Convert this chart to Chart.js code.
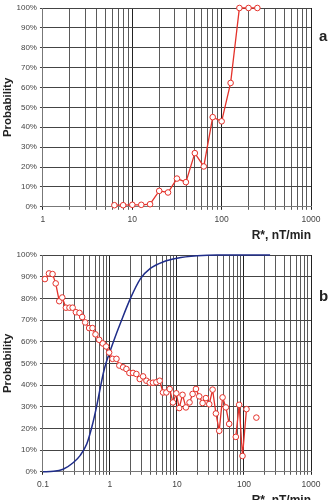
<!DOCTYPE html>
<html>
<head>
<meta charset="utf-8">
<script src="https://cdn.jsdelivr.net/npm/chart.js@4"></script>
<style>
html, body { margin: 0; padding: 0; background: #fff; overflow: hidden; width: 333px; height: 500px; }
#panelA { position: absolute; left: 0; top: 0; width: 333px; height: 242px; }
#panelB { position: absolute; left: 0; top: 240px; width: 333px; height: 267px; }
.letra { position: absolute; font: bold 15px "Liberation Sans", Arial, sans-serif; color: #222; }
</style>
</head>
<body>
<div id="panelA"><canvas id="graficaA"></canvas></div>
<div id="panelB"><canvas id="graficaB"></canvas></div>
<div class="letra" style="left:319px; top:27px;">a</div>
<div class="letra" style="left:319px; top:287px;">b</div>
<script>
// panel a
let rA = [6.3, 7.9, 10, 12.6, 15.8, 20, 25.1, 31.6, 39.8, 50.1, 63.1, 79.4, 100, 126, 158, 200, 251];
let probA = [0.8, 0.8, 1.0, 1.0, 1.3, 8.0, 7.2, 14.2, 12.4, 27.0, 20.3, 45.1, 43.0, 62.3, 100, 100, 100];

// panel b (null = hueco en la linea)
let rB = [0.107, 0.123, 0.139, 0.155, 0.175, 0.194, 0.220, 0.249, 0.277, 0.310,
          0.351, 0.385, 0.427, 0.489, 0.548, 0.608, 0.690, 0.782, 0.877, 0.972,
          1.09, 1.25, 1.38, 1.57, 1.76, 1.95, 2.21, 2.48, 2.78, 3.12,
          3.50, 3.92, 4.39, 4.92, 5.52, 6.19, 6.94, 7.78, 8.71, 9.77,
          10.8, 12.1, 13.6, 15.4, 17.1, 19.2, 21.5, 24.1, 27.0, 30.3,
          34.0, 38.1, 42.7, 47.9, 53.7, 60.1, 67.3, 75.5, 84.7, 95.0,
          109, 122, 137, 153];
let probB = [88.9, 91.5, 91.2, 86.9, 78.7, 80.4, 75.7, 75.7, 75.7, 73.6,
             73.3, 71.4, 68.9, 66.3, 66.3, 63.4, 60.9, 59.2, 57.8, 55.0,
             52.1, 52.1, 49.0, 48.2, 47.4, 45.6, 45.6, 45.1, 42.8, 44.0,
             42.0, 41.1, 41.1, 41.3, 42.0, 36.6, 36.6, 38.2, 32.0, 36.2,
             29.4, 35.5, 29.7, 32.0, 35.9, 38.2, 34.8, 31.7, 34.0, 31.2,
             37.9, 26.9, 18.9, 34.3, 29.7, 22.1, null, 16.1, 30.9, 7.3,
             28.9, null, null, 25.0];

let rCurva = [0.1, 0.144, 0.2, 0.285, 0.36, 0.45, 0.54, 0.64, 0.72, 0.81, 0.89,
              1.0, 1.14, 1.43, 2.02, 2.84, 4.0, 6.3, 10, 20, 40, 245];
let probCurva = [0, 0.2, 1.2, 4.3, 7.6, 12.8, 21, 31, 39, 46.5, 51,
                 55.5, 60.5, 68.5, 80, 89, 93.8, 96.9, 98.5, 99.6, 100, 100];

let decadasA = [1, 10, 100, 1000];
let decadasB = [0.1, 1, 10, 100, 1000];

const fuente = "'Liberation Sans', Arial, sans-serif";
const rojo = "#e4322b";
const azul = "#1f2d8a";

addEventListener("load", inicializar, false);

function inicializar() {
    dibujarPanel("graficaA", decadasA, [serieRoja(rA, probA)], { left: 2, right: 22, top: 8, bottom: 0 });
    dibujarPanel("graficaB", decadasB, [
        serieRoja(rB, probB),
        {
            data: rCurva.map((x, i) => ({ x: x, y: probCurva[i] })),
            borderColor: azul,
            borderWidth: 1.5,
            pointRadius: 0,
            cubicInterpolationMode: "monotone",
            showLine: true,
            clip: false
        }
    ], { left: 2, right: 22, top: 15, bottom: 0 });
}

function serieRoja(xs, ys) {
    return {
        data: xs.map((x, i) => ({ x: x, y: ys[i] })),
        borderColor: rojo,
        borderWidth: 1.3,
        pointRadius: 2.8,
        pointBackgroundColor: "#fff",
        pointBorderColor: rojo,
        pointBorderWidth: 1,
        showLine: true,
        spanGaps: false,
        clip: false
    };
}

function rejilla(decadas) {
    let valores = [];
    for (let i = 0; i < decadas.length - 1; i++) {
        for (let k = 1; k <= 9; k++) valores.push(k === 1 ? decadas[i] : decadas[i] * k);
    }
    valores.push(decadas[decadas.length - 1]);
    return valores;
}

function esDecada(v) {
    let l = Math.log10(v);
    return Math.abs(l - Math.round(l)) < 1e-6;
}

function dibujarPanel(id, decadas, datasets, relleno) {
    let ctx = document.getElementById(id).getContext("2d");
    let valores = rejilla(decadas);
    new Chart(ctx, {
        type: "scatter",
        data: { datasets: datasets },
        options: {
            responsive: true,
            maintainAspectRatio: false,
            animation: false,
            layout: { padding: relleno },
            plugins: { legend: { display: false }, tooltip: { enabled: false } },
            scales: {
                x: {
                    type: "logarithmic",
                    min: decadas[0],
                    max: decadas[decadas.length - 1],
                    afterBuildTicks: scale => { scale.ticks = valores.map(v => ({ value: v })); },
                    ticks: {
                        autoSkip: false,
                        maxRotation: 0,
                        padding: 5,
                        color: "#444",
                        font: { family: fuente, size: 8.5 },
                        callback: v => decadas.includes(v) ? String(v) : ""
                    },
                    grid: {
                        color: c => esDecada(c.tick.value) ? "#222" : "#5a5a5a",
                        tickLength: 3,
                        lineWidth: 1
                    },
                    border: { color: "#777" },
                    title: {
                        display: true,
                        text: "R*, nT/min",
                        align: "end",
                        color: "#222",
                        padding: 0,
                        font: { family: fuente, size: 12, weight: "bold", lineHeight: 1.0 }
                    }
                },
                y: {
                    min: 0,
                    max: 100,
                    ticks: {
                        stepSize: 10,
                        padding: 3,
                        color: "#444",
                        font: { family: fuente, size: 8 },
                        callback: v => v + "%"
                    },
                    grid: { color: "#444", tickLength: 3, lineWidth: 1 },
                    border: { color: "#777" },
                    title: {
                        display: true,
                        text: "Probability",
                        color: "#222",
                        padding: 0,
                        font: { family: fuente, size: 11.5, weight: "bold", lineHeight: 1.0 }
                    }
                }
            }
        }
    });
}
</script>
</body>
</html>
